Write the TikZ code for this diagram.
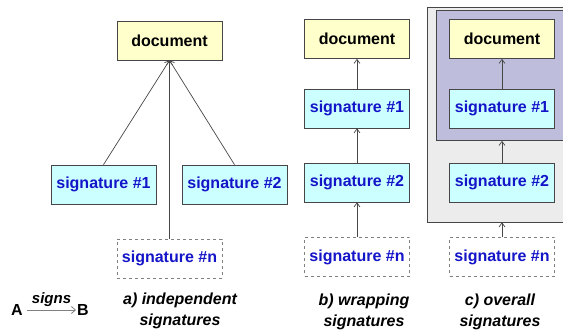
\documentclass[tikz,border=0pt]{standalone}
\usepackage{fontspec}
\setmainfont{Liberation Sans}
\usetikzlibrary{arrows.meta}
\definecolor{docfill}{RGB}{255,255,204}
\definecolor{sigfill}{RGB}{204,255,255}
\definecolor{sigtext}{RGB}{20,20,200}
\definecolor{edge}{RGB}{70,70,70}
\definecolor{outerfill}{RGB}{236,236,236}
\definecolor{innerfill}{RGB}{190,190,220}
\tikzset{
  box/.style={draw=edge, line width=0.7pt, minimum width=105pt, minimum height=39pt,
    inner sep=0pt, font=\fontsize{16}{18}\selectfont\bfseries},
  docbox/.style={box, fill=docfill, text=black},
  sigbox/.style={box, fill=sigfill, text=sigtext},
  optbox/.style={box, fill=white, text=sigtext, draw=gray, dashed},
  link/.style={draw=edge, line width=0.7pt, -{Straight Barb[length=4pt,width=6pt,line width=0.7pt]}},
  caption/.style={align=center, font=\fontsize{16}{21}\selectfont\bfseries\itshape},
  frame/.style={draw=edge, line width=0.7pt, inner sep=0pt},
  legtext/.style={font=\fontsize{16}{18}\selectfont\bfseries, inner sep=1pt}
}
\begin{document}
\begin{tikzpicture}[x=1pt, y=-1pt]
\useasboundingbox (0,0) rectangle (563,334);
\clip (0,0) rectangle (563,334);

% a) independent signatures
\node[docbox] (docA) at (169.5,40.5) {document};
\node[sigbox] (s1A) at (103.5,184.5) {signature \#1};
\node[sigbox] (s2A) at (234.5,184.5) {signature \#2};
\node[optbox] (snA) at (169.5,258.5) {signature \#n};
\draw[link] (s1A.north) -- (docA.south);
\draw[link] (s2A.north) -- (docA.south);
\draw[link] (snA.north) -- (docA.south);
\node[caption] (capA) at (180,310.5) {a) independent\\signatures};

% b) wrapping signatures
\node[docbox] (docB) at (357,39) {document};
\node[sigbox] (s1B) at (357,108.5) {signature \#1};
\node[sigbox] (s2B) at (357,182.5) {signature \#2};
\node[optbox] (snB) at (357,257) {signature \#n};
\draw[link] (s1B) -- (docB);
\draw[link] (s2B) -- (s1B);
\draw[link] (snB) -- (s2B);
\node[caption] (capB) at (364,312) {b) wrapping\\signatures};

% c) overall signatures
\node[frame, fill=outerfill, minimum width=150pt, minimum height=215pt] (outerC) at (502,114.5) {};
\node[frame, fill=innerfill, minimum width=136pt, minimum height=130pt] (innerC) at (504,75.5) {};
\node[docbox] (docC) at (502,39) {document};
\node[sigbox] (s1C) at (502,108.5) {signature \#1};
\node[sigbox] (s2C) at (502,182.5) {signature \#2};
\node[optbox] (snC) at (502,257) {signature \#n};
\draw[link] (s1C) -- (docC);
\draw[link] (s2C.north) -- (s2C.north |- innerC.south);
\draw[link] (snC.north) -- (snC.north |- outerC.south);
\node[caption] (capC) at (500,312) {c) overall\\signatures};

% legend
\node[legtext] (legA) at (17,310) {A};
\node[legtext] (legB) at (83,310) {B};
\draw[draw=gray, line width=1pt, -{Straight Barb[length=4pt,width=7pt,line width=0.8pt]}]
  (legA.east) ++(3,0) coordinate (legS) -- (legB.west)
  node[midway, above=0pt, font=\fontsize{15}{17}\selectfont\bfseries\itshape, text=black] (legT) {signs};
\end{tikzpicture}
\end{document}
